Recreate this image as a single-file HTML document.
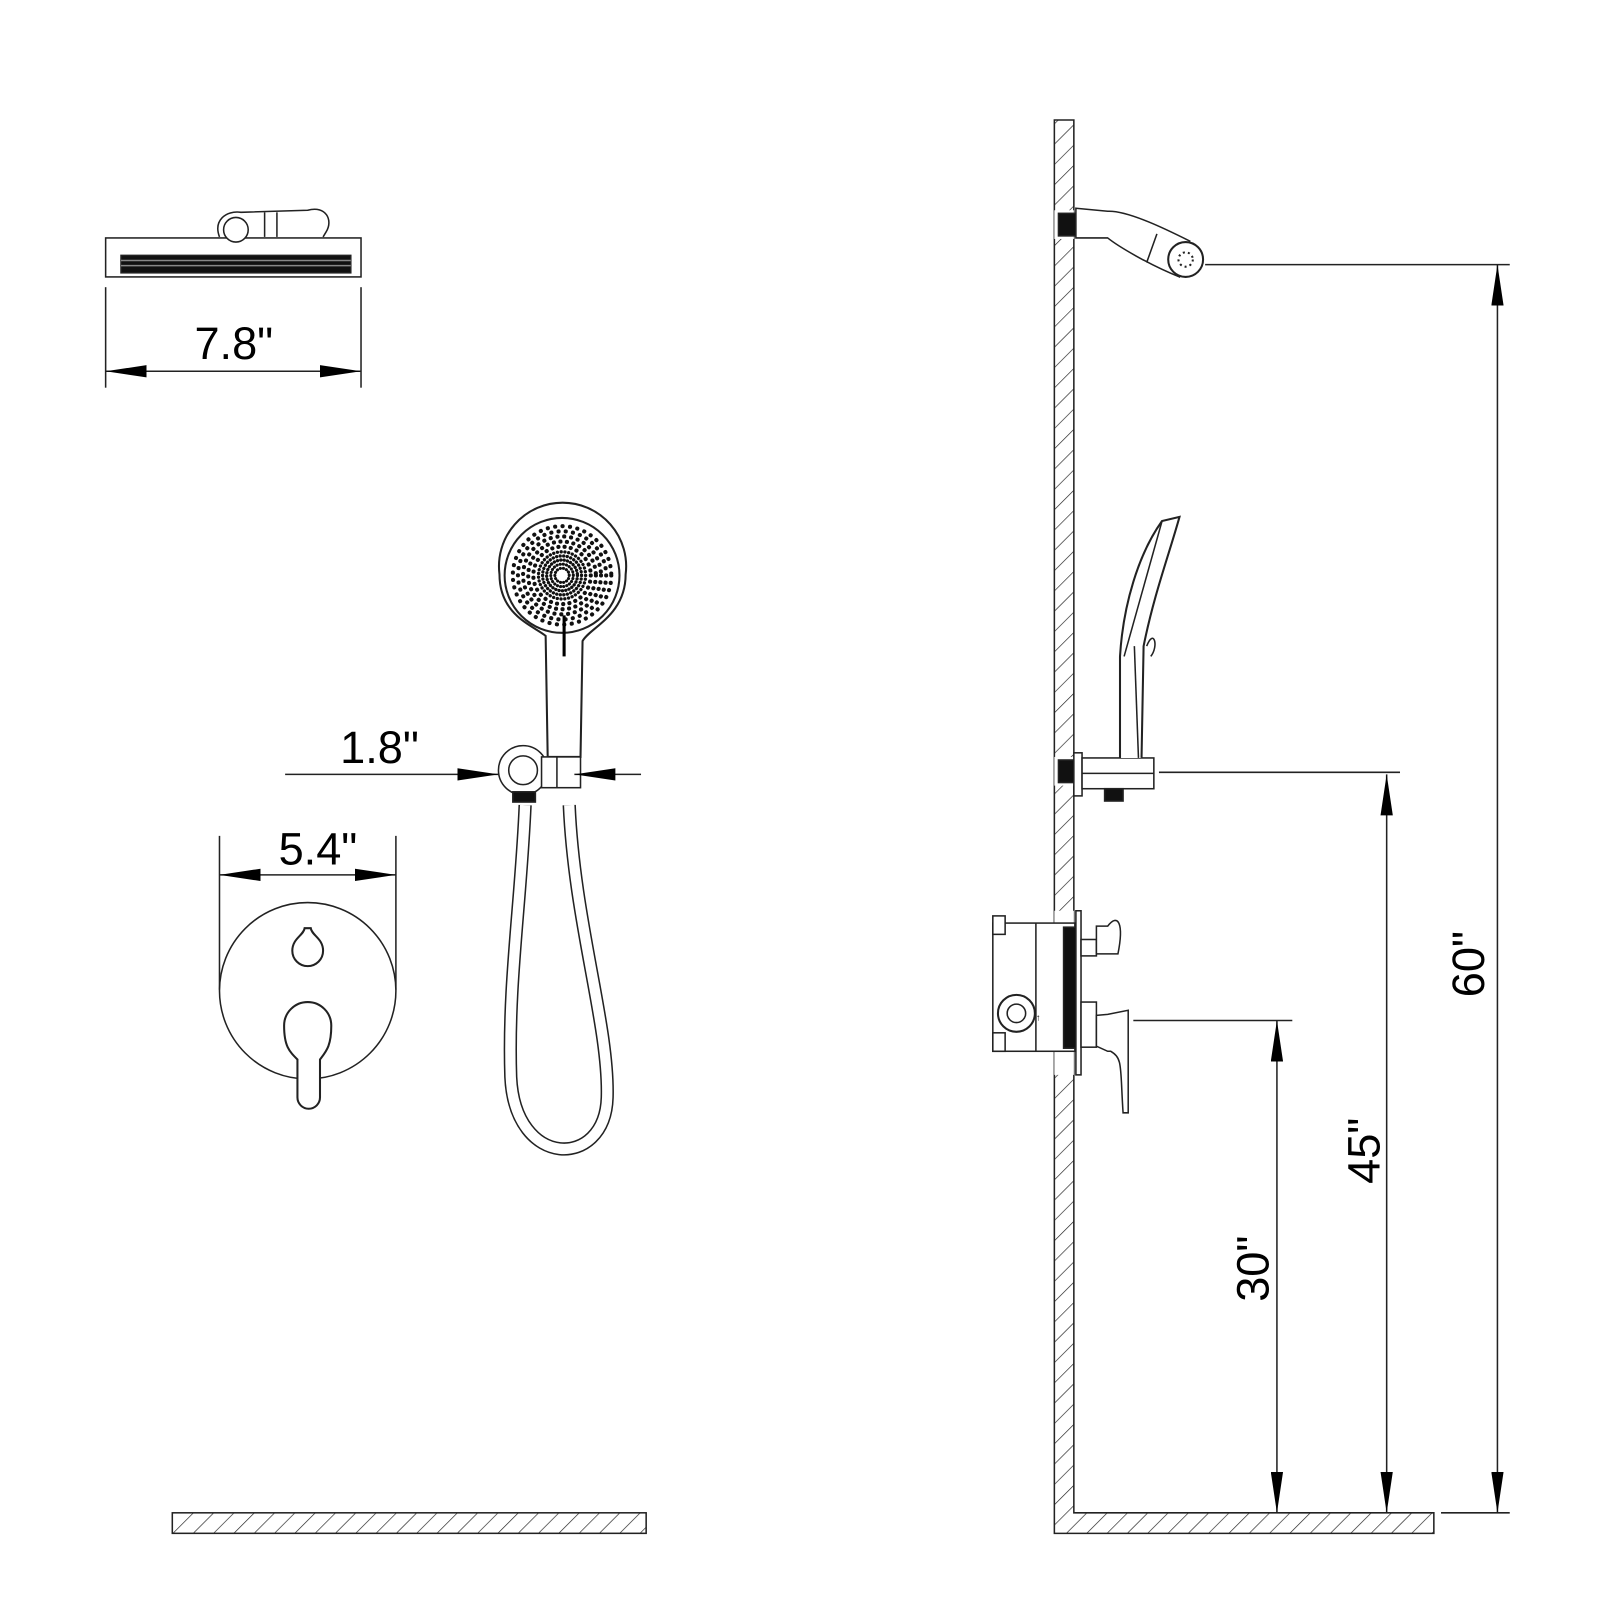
<!DOCTYPE html>
<html><head><meta charset="utf-8"><style>html,body{margin:0;padding:0;background:#fff}svg{display:block}</style></head>
<body>
<svg width="1600" height="1600" viewBox="0 0 1560 1560" xmlns="http://www.w3.org/2000/svg" font-family="Liberation Sans, sans-serif">
<defs>
<pattern id="h" width="14" height="14" patternUnits="userSpaceOnUse" patternTransform="rotate(45)">
<line x1="0" y1="0" x2="0" y2="14" stroke="#222" stroke-width="1.3"/>
</pattern>
<marker id="a" viewBox="0 0 40 12" refX="40" refY="6" markerWidth="40" markerHeight="12" markerUnits="userSpaceOnUse" orient="auto-start-reverse"><path d="M0,0 L40,6 L0,12 Z" fill="#000"/></marker>
</defs>
<g fill="none" stroke="#222" stroke-width="1.5">
<!-- top shower head -->
<rect x="103" y="232" width="249" height="38" fill="#fff"/>
<rect x="118" y="249" width="224" height="17" fill="#111"/>
<line x1="118" y1="254" x2="342" y2="254" stroke="#888"/><line x1="118" y1="259" x2="342" y2="259" stroke="#888"/>
<path d="M214,231 C208,215 220,205 235,207 L300,205 C318,200 325,215 318,226 L315,231" fill="#fff"/>
<circle cx="230" cy="224" r="12" fill="#fff"/>
<line x1="258" y1="207" x2="258" y2="231"/><line x1="270" y1="207" x2="270" y2="231"/>
<!-- 7.8 dim -->
<line x1="103" y1="280" x2="103" y2="378"/><line x1="352" y1="280" x2="352" y2="378"/>
<line x1="103" y1="362" x2="352" y2="362" marker-start="url(#a)" marker-end="url(#a)"/>
<!-- handheld front -->
<path d="M532,620 C520,610 487,600 487,560 A62,62 0 1 1 610,560 C610,600 575,612 568,625 L566,738 L534,738 Z" fill="#fff" stroke-width="2"/>
<circle cx="548" cy="561" r="56" stroke-width="2"/>
<g stroke="#111" stroke-linecap="round">
<circle cx="548" cy="561" r="7" stroke-width="3" stroke-dasharray="0.1 3"/>
<circle cx="548" cy="561" r="11" stroke-width="3" stroke-dasharray="0.1 3"/>
<circle cx="548" cy="561" r="15" stroke-width="3.2" stroke-dasharray="0.1 3.2"/>
<circle cx="548" cy="561" r="19" stroke-width="3.2" stroke-dasharray="0.1 3.4"/>
<circle cx="548" cy="561" r="23" stroke-width="3.2" stroke-dasharray="0.1 3.6"/>
<circle cx="548" cy="561" r="28" stroke-width="4" stroke-dasharray="0.1 6"/>
<circle cx="548" cy="561" r="33" stroke-width="4" stroke-dasharray="0.1 6.3"/>
<circle cx="548" cy="561" r="38" stroke-width="4" stroke-dasharray="0.1 6.6"/>
<circle cx="548" cy="561" r="43" stroke-width="4" stroke-dasharray="0.1 7"/>
<circle cx="548" cy="561" r="48" stroke-width="4" stroke-dasharray="0.1 7.2"/>
</g>
<circle cx="548" cy="561" r="3" fill="#fff" stroke="none"/>
<line x1="550" y1="600" x2="550" y2="640" stroke="#000" stroke-width="3"/>
<!-- hose -->
<path d="M512,785 C508,880 495,960 498,1050 C502,1140 590,1140 592,1070 C594,1000 560,900 555,785" stroke="#222" stroke-width="13"/>
<path d="M512,785 C508,880 495,960 498,1050 C502,1140 590,1140 592,1070 C594,1000 560,900 555,785" stroke="#fff" stroke-width="10"/>
<circle cx="510" cy="751" r="24" fill="#fff"/>
<circle cx="510" cy="751" r="14"/>
<rect x="528" y="738" width="38" height="30" fill="#fff"/>
<line x1="543" y1="738" x2="543" y2="768"/>
<rect x="500" y="772" width="22" height="10" fill="#111"/>
<!-- 1.8 dim -->
<line x1="278" y1="755" x2="486" y2="755" marker-end="url(#a)"/>
<line x1="625" y1="755" x2="560" y2="755" marker-end="url(#a)"/>
<!-- 5.4 dim -->
<line x1="214" y1="815" x2="214" y2="965"/><line x1="386" y1="815" x2="386" y2="965"/>
<line x1="214" y1="853" x2="386" y2="853" marker-start="url(#a)" marker-end="url(#a)"/>
<!-- valve plate -->
<circle cx="300" cy="966" r="86" fill="#fff"/>
<path d="M297,905 L303,905 C304,912 315,915 315,927 A15,15 0 1 1 285,927 C285,915 296,912 297,905 Z" stroke-width="2"/>
<path d="M290,1033 C282,1025 277,1020 277,1000 A23,23 0 0 1 323,1000 C323,1020 318,1025 312,1033 L312,1070 A11,11 0 0 1 290,1070 Z" fill="#fff" stroke-width="2"/>
<!-- floors and wall -->
<rect x="168" y="1475" width="462" height="20" fill="url(#h)"/>
<path d="M1028,117 L1047,117 L1047,1475 L1398,1475 L1398,1495 L1028,1495 Z" fill="url(#h)"/>
<rect x="1028" y="205" width="19" height="28" fill="#fff" stroke="none"/>
<rect x="1028" y="738" width="19" height="28" fill="#fff" stroke="none"/>
<rect x="1028" y="888" width="19" height="160" fill="#fff" stroke="none"/>
<!-- wall shower arm -->
<rect x="1032" y="208" width="17" height="22" fill="#111"/>
<path d="M1049,203 L1080,206 C1100,205 1140,225 1160,235 L1150,270 C1120,258 1090,240 1080,232 L1049,232 Z" fill="#fff"/>
<line x1="1128" y1="228" x2="1118" y2="256"/>
<circle cx="1156" cy="253" r="17" fill="#fff" stroke-width="2"/>
<circle cx="1156" cy="253" r="7" stroke-dasharray="2 3" stroke-width="2"/>
<!-- handheld side -->
<rect x="1032" y="741" width="15" height="22" fill="#111"/>
<rect x="1047" y="734" width="8" height="42" fill="#fff"/>
<rect x="1055" y="739" width="70" height="30" fill="#fff"/>
<line x1="1055" y1="754" x2="1125" y2="754"/>
<rect x="1077" y="769" width="18" height="12" fill="#111"/>
<path d="M1092,739 L1092,640 C1095,590 1110,540 1133,508 L1150,504 C1140,540 1125,580 1115,630 L1113,739" fill="#fff" stroke-width="2"/>
<line x1="1096" y1="640" x2="1133" y2="508"/>
<line x1="1106" y1="630" x2="1110" y2="739"/>
<path d="M1118,630 C1125,612 1130,630 1122,640" />
<!-- valve side -->
<rect x="968" y="900" width="80" height="125" fill="#fff"/>
<rect x="968" y="893" width="12" height="18" fill="#fff"/><rect x="968" y="1007" width="12" height="18" fill="#fff"/>
<line x1="1010" y1="900" x2="1010" y2="1025"/>
<rect x="1037" y="904" width="12" height="118" fill="#111"/>
<rect x="1049" y="888" width="5" height="160" fill="#fff"/>
<circle cx="991" cy="988" r="18" stroke-width="2" fill="#fff"/><circle cx="991" cy="988" r="9"/>
<text x="1010" y="995" font-size="9" fill="#000" stroke="none">↑</text>
<rect x="1054" y="916" width="15" height="16" fill="#fff"/>
<path d="M1069,903 L1080,903 C1090,890 1096,900 1090,930 L1069,930 Z" fill="#fff"/>
<rect x="1054" y="977" width="15" height="44" fill="#fff"/>
<path d="M1069,990 L1080,989 L1100,985 L1100,1085 L1095,1085 C1092,1040 1095,1032 1083,1025 L1080,1025 L1069,1020 Z" fill="#fff"/>
<!-- right dims -->
<line x1="1175" y1="258" x2="1472" y2="258"/>
<line x1="1405" y1="1475" x2="1472" y2="1475"/>
<line x1="1460" y1="258" x2="1460" y2="1475" marker-start="url(#a)" marker-end="url(#a)"/>
<line x1="1130" y1="753" x2="1365" y2="753"/>
<line x1="1352" y1="755" x2="1352" y2="1475" marker-start="url(#a)" marker-end="url(#a)"/>
<line x1="1105" y1="995" x2="1260" y2="995"/>
<line x1="1245" y1="995" x2="1245" y2="1475" marker-start="url(#a)" marker-end="url(#a)"/>
</g>
<g font-size="44" fill="#000">
<text x="228" y="350" text-anchor="middle">7.8"</text>
<text x="370" y="744" text-anchor="middle">1.8"</text>
<text x="310" y="843" text-anchor="middle">5.4"</text>
<text transform="translate(1447,940) rotate(-90)" text-anchor="middle">60"</text>
<text transform="translate(1345,1122) rotate(-90)" text-anchor="middle">45"</text>
<text transform="translate(1237,1237) rotate(-90)" text-anchor="middle">30"</text>
</g>
</svg>
</body></html>
